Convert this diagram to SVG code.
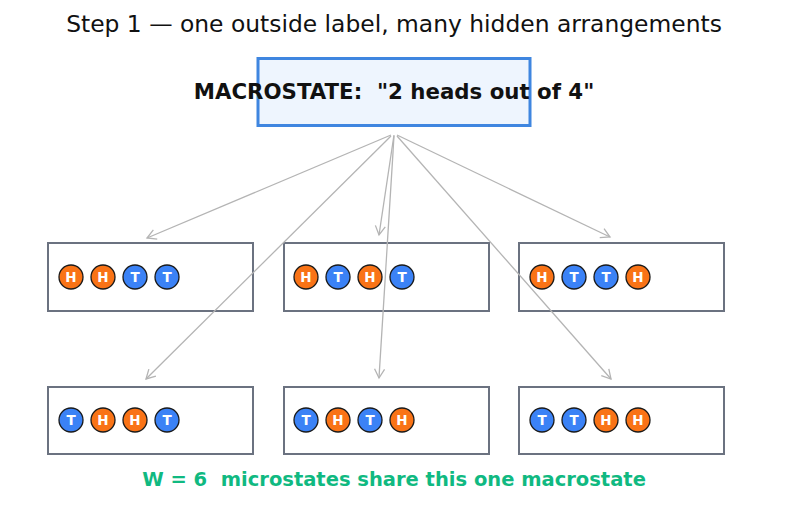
<svg xmlns="http://www.w3.org/2000/svg" width="787" height="510" viewBox="0 0 787 510">
<style>
text{font-family:"DejaVu Sans",sans-serif;white-space:pre}
.title{font-size:23.4px;fill:#111}
.macro{fill:#eef5fe;stroke:#3f86e0;stroke-width:3}
.mtext{font-size:21.3px;font-weight:bold;fill:#111}
.micro{fill:none;stroke:#6b7280;stroke-width:2}
.h{fill:#f97316;stroke:#1a1a1a;stroke-width:1.3}
.t{fill:#3b82f6;stroke:#1a1a1a;stroke-width:1.3}
.c{font-size:13.5px;font-weight:bold;fill:#fff;text-anchor:middle}
.conn{stroke:#b4b4b4;stroke-width:1.3;fill:none;marker-end:url(#ah)}
.foot{font-size:19.5px;font-weight:bold;fill:#10b981}
</style>
<defs>
<marker id="ah" markerWidth="12" markerHeight="12" refX="10" refY="6" orient="auto" markerUnits="userSpaceOnUse">
<path d="M1,1 L10,6 L1,11" fill="none" stroke="#b4b4b4" stroke-width="1.3"/>
</marker>
<g id="H"><circle r="12" class="h"/><text class="c" y="4.8">H</text></g>
<g id="T"><circle r="12" class="t"/><text class="c" y="4.8">T</text></g>
</defs>
<rect width="787" height="510" fill="#fff"/>
<text class="title" x="394" y="32" text-anchor="middle">Step 1 — one outside label, many hidden arrangements</text>
<g id="macrostate">
<rect class="macro" x="258" y="58.5" width="272" height="67"/>
<text class="mtext" x="394" y="99" text-anchor="middle" xml:space="preserve">MACROSTATE:  "2 heads out of 4"</text>
</g>
<g id="micro1">
<rect class="micro" x="48" y="243" width="205" height="68"/>
<use href="#H" x="71" y="277"/><use href="#H" x="103" y="277"/><use href="#T" x="135" y="277"/><use href="#T" x="167" y="277"/>
</g>
<g id="micro2">
<rect class="micro" x="284" y="243" width="205" height="68"/>
<use href="#H" x="306" y="277"/><use href="#T" x="338" y="277"/><use href="#H" x="370" y="277"/><use href="#T" x="402" y="277"/>
</g>
<g id="micro3">
<rect class="micro" x="519" y="243" width="205" height="68"/>
<use href="#H" x="542" y="277"/><use href="#T" x="574" y="277"/><use href="#T" x="606" y="277"/><use href="#H" x="638" y="277"/>
</g>
<g id="micro4">
<rect class="micro" x="48" y="387" width="205" height="67"/>
<use href="#T" x="71" y="420"/><use href="#H" x="103" y="420"/><use href="#H" x="135" y="420"/><use href="#T" x="167" y="420"/>
</g>
<g id="micro5">
<rect class="micro" x="284" y="387" width="205" height="67"/>
<use href="#T" x="306" y="420"/><use href="#H" x="338" y="420"/><use href="#T" x="370" y="420"/><use href="#H" x="402" y="420"/>
</g>
<g id="micro6">
<rect class="micro" x="519" y="387" width="205" height="67"/>
<use href="#T" x="542" y="420"/><use href="#T" x="574" y="420"/><use href="#H" x="606" y="420"/><use href="#H" x="638" y="420"/>
</g>
<g id="connectors">
<line class="conn" x1="391" y1="135" x2="147" y2="238"/>
<line class="conn" x1="394" y1="135" x2="379" y2="235"/>
<line class="conn" x1="397" y1="135" x2="610" y2="237"/>
<line class="conn" x1="391" y1="136" x2="146" y2="379"/>
<line class="conn" x1="394" y1="136" x2="379" y2="378"/>
<line class="conn" x1="397" y1="136" x2="611" y2="379"/>
</g>
<text class="foot" x="394" y="486" text-anchor="middle" xml:space="preserve">W = 6  microstates share this one macrostate</text>
</svg>
